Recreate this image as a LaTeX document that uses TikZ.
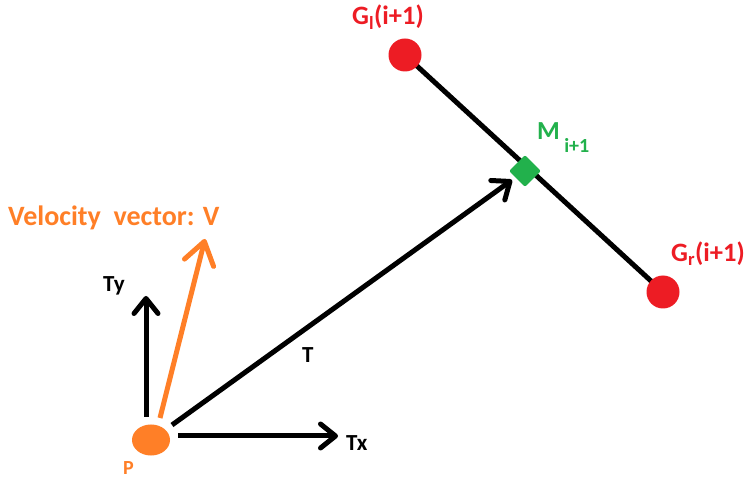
\documentclass[tikz,border=0pt]{standalone}
\usepackage{fontspec}
\setmainfont{Carlito}
\usetikzlibrary{arrows.meta,shapes.geometric}
\definecolor{porange}{RGB}{255,127,39}
\definecolor{pred}{RGB}{237,28,36}
\definecolor{pgreen}{RGB}{34,177,76}
\tikzset{
  vec/.style={line width=5pt,-{Straight Barb[length=15pt,width=24pt,round]}},
  bigvec/.style={line width=5pt,-{Straight Barb[length=22pt,width=30pt,round]}},
  lbl/.style={inner sep=0pt,anchor=base west,font=\bfseries\fontsize{23}{26}\selectfont},
  biglbl/.style={inner sep=0pt,anchor=base west,font=\bfseries\fontsize{28}{32}\selectfont},
  glbl/.style={inner sep=0pt,anchor=base west,text=pred,font=\bfseries\fontsize{26.5}{30}\selectfont},
  gpoint/.style={circle,fill=pred,minimum size=33pt,inner sep=0pt},
}
\begin{document}
\begin{tikzpicture}[x=1pt,y=-1pt]
\path[use as bounding box,fill=white] (0,0) rectangle (748,481);
% segment between the two points
\coordinate (gl) at (405,55);
\coordinate (gr) at (663,292);
\draw[line width=5pt] (gl) -- (gr);
\node[gpoint] (Gl) at (gl) {};
\node[gpoint] (Gr) at (gr) {};
\node[diamond,fill=pgreen,minimum size=32pt,inner sep=0pt,rounded corners=2pt] (M) at (525,171) {};
% point P
\node[ellipse,fill=porange,minimum width=38pt,minimum height=31pt,inner sep=0pt] (P) at (151,440) {};
% coordinates
\coordinate (tyS) at (146,417);
\coordinate (tyE) at (146,296);
\coordinate (vS) at (160,418);
\coordinate (vE) at (205,239);
\coordinate (tS) at (172,425);
\coordinate (tE) at (512,180);
\coordinate (txS) at (178,436);
\coordinate (txE) at (338,436);
\draw[vec] (tyS) -- (tyE);
\draw[vec] (txS) -- (txE);
\draw[vec] (tS) -- (tE);
\draw[bigvec,draw=porange] (vS) -- (vE);
% labels
\node[lbl,text=porange,font=\bfseries\fontsize{20}{24}\selectfont] (Plbl) at (123,475) {P};
\node[lbl] (Tylbl) at (103,292) {Ty};
\node[lbl] (Txlbl) at (346,450) {Tx};
\node[lbl] (Tlbl) at (302,363) {T};
\node[biglbl,text=porange] (Vlbl) at (8,226) {Velocity\ \ vector: V};
\node[glbl] (Gllbl) at (352,25) {G\textsubscript{l}(i+1)};
\node[glbl] (Grlbl) at (671,262) {G\textsubscript{r}(i+1)};
\node[inner sep=0pt,anchor=base west,text=pgreen,font=\bfseries\fontsize{26}{30}\selectfont] (Mlbl) at (537,140) {M\,\raisebox{-13pt}{\fontsize{20}{24}\selectfont i+1}};
\end{tikzpicture}
\end{document}
